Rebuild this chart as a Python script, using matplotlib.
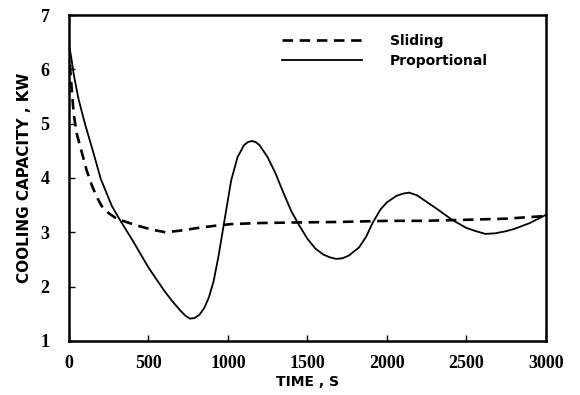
import numpy as np
import matplotlib
matplotlib.use("Agg")
import matplotlib.pyplot as plt

# =====================================================
# Data
# =====================================================
time_prop = [0, 15, 30, 60, 100, 150, 200, 270, 330, 400, 500, 600, 650,
             700, 730, 760, 790, 820, 850, 880, 910, 940, 980, 1020, 1060,
             1100, 1125, 1150, 1175, 1200, 1250, 1300, 1350, 1400, 1450,
             1500, 1550, 1600, 1640, 1680, 1720, 1760, 1825, 1870, 1910,
             1960, 2000, 2060, 2100, 2140, 2190, 2240, 2320, 2410, 2500,
             2560, 2620, 2680, 2750, 2800, 2900, 3000]
cap_prop = [6.45, 6.2, 5.9, 5.45, 5.0, 4.5, 3.98, 3.48, 3.18, 2.85, 2.35,
            1.92, 1.73, 1.56, 1.47, 1.41, 1.42, 1.48, 1.6, 1.8, 2.1, 2.55,
            3.25, 3.95, 4.38, 4.6, 4.66, 4.68, 4.66, 4.6, 4.38, 4.08, 3.72,
            3.38, 3.12, 2.88, 2.7, 2.59, 2.54, 2.51, 2.52, 2.57, 2.72, 2.92,
            3.17, 3.42, 3.55, 3.67, 3.71, 3.73, 3.68, 3.58, 3.42, 3.23, 3.08,
            3.02, 2.97, 2.98, 3.02, 3.06, 3.17, 3.32]

time_slide = [0, 10, 30, 50, 75, 110, 144, 175, 206, 250, 300, 360, 420,
              520, 606, 700, 812, 920, 1020, 1200, 1420, 1700, 2000, 2230,
              2500, 2750, 3000]
cap_slide = [6.4, 5.9, 5.16, 4.8, 4.53, 4.15, 3.86, 3.65, 3.48, 3.35, 3.25,
             3.19, 3.13, 3.05, 3.0, 3.03, 3.08, 3.12, 3.15, 3.17, 3.18, 3.19,
             3.21, 3.21, 3.23, 3.25, 3.3]

x_ticks = [0, 500, 1000, 1500, 2000, 2500, 3000]
y_ticks = [1, 2, 3, 4, 5, 6, 7]

# =====================================================
# Plot
# =====================================================
fig = plt.figure(figsize=(5.8, 3.95), dpi=100)
ax = fig.add_axes([0.119, 0.137, 0.822, 0.825])

ax.plot(time_slide, cap_slide, color="black", lw=1.9, dashes=(4, 2.5),
        label="Sliding")
ax.plot(time_prop, cap_prop, color="black", lw=1.3, label="Proportional")

ax.set_xlim(0, 3000)
ax.set_ylim(1, 7)
ax.set_xticks(x_ticks)
ax.set_yticks(y_ticks)

for side in ["left", "bottom", "right", "top"]:
    ax.spines[side].set_linewidth(1.8)

ax.tick_params(direction="in", length=4, width=1, top=False, right=False)
ax.tick_params(axis="x", pad=10)
ax.tick_params(axis="y", pad=14)
for lab in ax.get_xticklabels() + ax.get_yticklabels():
    lab.set_fontfamily("Liberation Serif")
    lab.set_fontweight("bold")
    lab.set_fontsize(13)

ax.set_xlabel("TIME , S", fontsize=10, fontweight="bold", labelpad=2)
ax.set_ylabel("COOLING CAPACITY , KW", fontsize=11, fontweight="bold",
              labelpad=6)

ax.legend(loc="upper left", bbox_to_anchor=(0.42, 0.98), frameon=False,
          prop={"weight": "bold", "size": 10}, handlelength=5.8,
          handletextpad=2.0, labelspacing=0.45)

fig.savefig("out.png", dpi=100)
